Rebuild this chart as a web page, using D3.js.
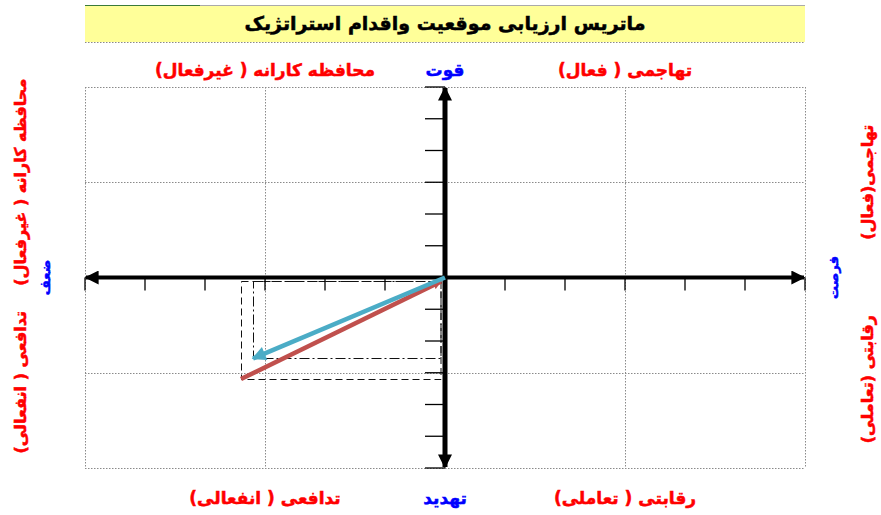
<!DOCTYPE html>
<html>
<head>
<meta charset="utf-8">
<style>
body { margin: 0; background: #fff; }
.grid line { stroke: #8a8a8a; stroke-width: 1; stroke-dasharray: 1.5,1.5; }
.lbl { font-family: "DejaVu Sans", sans-serif; font-weight: bold; stroke-width: 0.5; }
</style>
<title>space matrix</title>
<script src="https://cdn.jsdelivr.net/npm/d3@7"></script>
</head>
<body>
<svg width="881" height="515"></svg>
<script>

// chart values
var title = "ماتریس ارزیابی موقعیت واقدام استراتژیک";
var axisRange = [-6, 6];
var gridValues = [-6, -3, 0, 3, 6];
var tickValues = [-6, -5, -4, -3, -2, -1, 1, 2, 3, 4, 5, 6];

// top / bottom quadrant names (x position in data units)
var topLabels = [
  {text: "محافظه کارانه ( غیرفعال)", at: -3, color: "red"},
  {text: "قوت", at: 0, color: "blue"},
  {text: "تهاجمی ( فعال)", at: 3, color: "red"}
];
var bottomLabels = [
  {text: "تدافعی ( انفعالی)", at: -3, color: "red"},
  {text: "تهدید", at: 0, color: "blue"},
  {text: "رقابتی ( تعاملی)", at: 3, color: "red"}
];
// side names (y position in data units)
var leftLabels = [
  {text: "محافظه کارانه ( غیرفعال)", at: 3, color: "red"},
  {text: "ضعف", at: 0, color: "blue"},
  {text: "تدافعی ( انفعالی)", at: -3.3, color: "red"}
];
var rightLabels = [
  {text: "تهاجمی(فعال)", at: 3, color: "red"},
  {text: "فرصت", at: 0, color: "blue"},
  {text: "رقابتی (تعاملی)", at: -3.2, color: "red"}
];

// direction vectors
var vectorNames = ["blue", "red"];
var vectorX = [-3.2, -3.4];
var vectorY = [-2.55, -3.2];

var svg = d3.select("svg"),
    margin = {top: 87, right: 76, bottom: 47, left: 85},
    width = +svg.attr("width") - margin.left - margin.right,
    height = +svg.attr("height") - margin.top - margin.bottom;

var x = d3.scaleLinear().domain(axisRange).range([margin.left, margin.left + width]),
    y = d3.scaleLinear().domain(axisRange).range([margin.top + height, margin.top]);

var defs = svg.append("defs");
function marker(id, color, w, h) {
  defs.append("marker")
      .attr("id", id)
      .attr("viewBox", "0 0 10 10")
      .attr("refX", 9).attr("refY", 5)
      .attr("markerUnits", "userSpaceOnUse")
      .attr("markerWidth", w).attr("markerHeight", h)
      .attr("orient", "auto-start-reverse")
    .append("path")
      .attr("d", "M0,0L10,5L0,10z")
      .attr("fill", color);
}
marker("axhead", "#000", 16, 14);
marker("bluehead", "#4bacc6", 16, 14);
marker("redhead", "#c0504d", 9, 9);

// title box
svg.append("rect")
    .attr("x", x(-6)).attr("y", 5)
    .attr("width", x(6) - x(-6)).attr("height", 37)
    .attr("fill", "#ffff99");
svg.append("line")
    .attr("x1", x(-6)).attr("x2", x(6)).attr("y1", 5.5).attr("y2", 5.5)
    .attr("stroke", "#aaa");
svg.append("line")
    .attr("x1", x(-6)).attr("x2", 200).attr("y1", 5.5).attr("y2", 5.5)
    .attr("stroke", "#3a7a3a");
svg.append("line")
    .attr("x1", x(-6)).attr("x2", x(6)).attr("y1", 42.5).attr("y2", 42.5)
    .attr("stroke", "#8a8a8a").attr("stroke-dasharray", "1.5,1.5");
svg.append("text")
    .attr("class", "lbl")
    .attr("x", x(0)).attr("y", 30)
    .attr("text-anchor", "middle")
    .attr("font-size", 19)
    .attr("fill", "#000").attr("stroke", "#000")
    .text(title);

// dotted grid
var grid = svg.append("g").attr("class", "grid");
grid.selectAll(".gx").data(gridValues).enter().append("line")
    .attr("x1", function(d) { return x(d) + 0.5; })
    .attr("x2", function(d) { return x(d) + 0.5; })
    .attr("y1", y(6)).attr("y2", y(-6));
grid.selectAll(".gy").data(gridValues).enter().append("line")
    .attr("y1", function(d) { return Math.round(y(d)) + 0.5; })
    .attr("y2", function(d) { return Math.round(y(d)) + 0.5; })
    .attr("x1", x(-6)).attr("x2", x(6));

// projection rectangles of each vector
var dashes = ["10,3,2,3", "7,4"];
vectorNames.forEach(function(n, i) {
  var x0 = Math.round(x(vectorX[i])) + 0.5,
      y0 = Math.round(y(0)) + 3.5,
      y1 = Math.round(y(vectorY[i])) + 0.5;
  svg.append("rect")
      .attr("x", x0).attr("y", y0)
      .attr("width", Math.round(x(0)) - 4 - x0)
      .attr("height", y1 - y0)
      .attr("fill", "none")
      .attr("stroke", "#111")
      .attr("stroke-width", 1)
      .attr("stroke-dasharray", dashes[i]);
});

// main axes
var axes = svg.append("g");
axes.append("line")
    .attr("x1", x(-6) + 1).attr("x2", x(6) - 1)
    .attr("y1", y(0)).attr("y2", y(0))
    .attr("stroke", "#000").attr("stroke-width", 4)
    .attr("marker-start", "url(#axhead)")
    .attr("marker-end", "url(#axhead)");
axes.append("line")
    .attr("x1", x(0)).attr("x2", x(0))
    .attr("y1", y(6) + 1).attr("y2", y(-6) - 1)
    .attr("stroke", "#000").attr("stroke-width", 5)
    .attr("marker-start", "url(#axhead)")
    .attr("marker-end", "url(#axhead)");

axes.selectAll(".tx").data(tickValues).enter().append("line")
    .attr("x1", function(d) { return x(d); })
    .attr("x2", function(d) { return x(d); })
    .attr("y1", y(0)).attr("y2", y(0) + 13)
    .attr("stroke", "#000").attr("stroke-width", 1.3);
axes.selectAll(".ty").data(tickValues).enter().append("line")
    .attr("y1", function(d) { return y(d); })
    .attr("y2", function(d) { return y(d); })
    .attr("x1", x(0) - 20).attr("x2", x(0))
    .attr("stroke", "#000").attr("stroke-width", 1.3);

// vectors
svg.append("line")
    .attr("x1", x(0) - 4).attr("y1", y(0) + 4)
    .attr("x2", x(vectorX[1])).attr("y2", y(vectorY[1]))
    .attr("stroke", "#c0504d").attr("stroke-width", 4.5)
    .attr("marker-start", "url(#redhead)");
svg.append("line")
    .attr("x1", x(0)).attr("y1", y(0))
    .attr("x2", x(vectorX[0])).attr("y2", y(vectorY[0]))
    .attr("stroke", "#4bacc6").attr("stroke-width", 4.5)
    .attr("marker-end", "url(#bluehead)");

// quadrant labels
function hLabels(data, ypos) {
  svg.selectAll(null).data(data).enter().append("text")
      .attr("class", "lbl")
      .attr("x", function(d) { return x(d.at); })
      .attr("y", ypos)
      .attr("text-anchor", "middle")
      .attr("font-size", 17)
      .attr("fill", function(d) { return d.color; })
      .attr("stroke", function(d) { return d.color; })
      .text(function(d) { return d.text; });
}
hLabels(topLabels, 76);
hLabels(bottomLabels, 504);

function vLabels(data, xpos) {
  svg.selectAll(null).data(data).enter().append("text")
      .attr("class", "lbl")
      .attr("transform", function(d) {
        var xx = d.color == "blue" ? xpos[1] : xpos[0];
        return "translate(" + xx + "," + y(d.at) + ") rotate(-90)";
      })
      .attr("text-anchor", "middle")
      .attr("font-size", function(d) { return d.color == "blue" ? 13 : 16; })
      .attr("fill", function(d) { return d.color; })
      .attr("stroke", function(d) { return d.color; })
      .text(function(d) { return d.text; });
}
vLabels(leftLabels, [26, 50]);
vLabels(rightLabels, [873, 838]);

</script>
</body>
</html>
